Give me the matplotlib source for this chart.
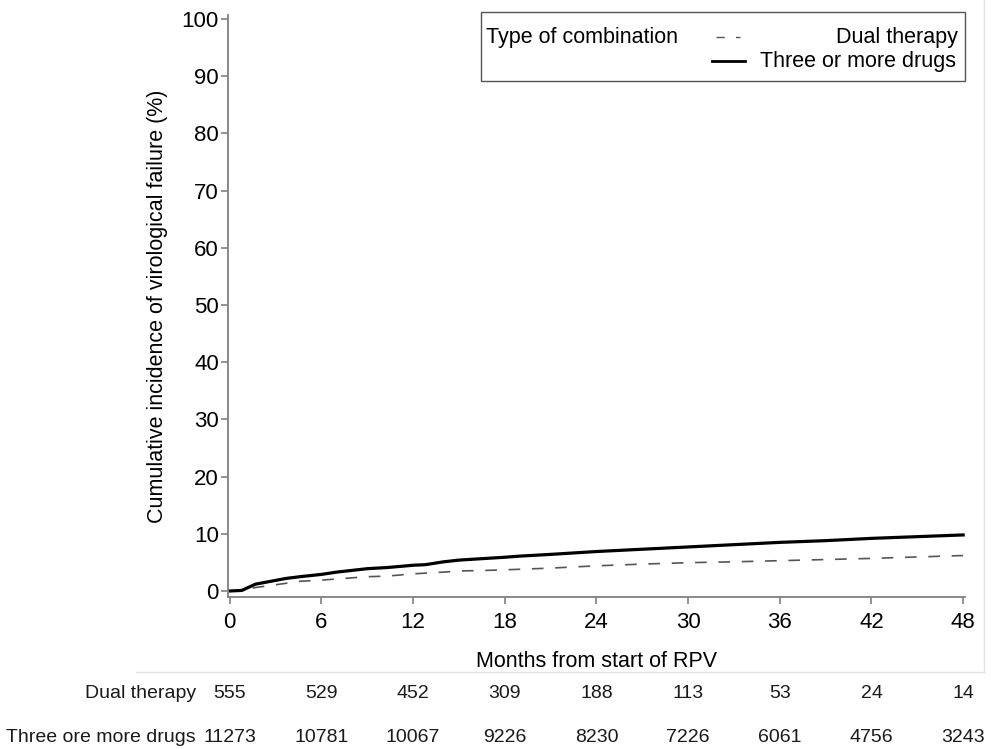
import matplotlib
matplotlib.use("Agg")
import matplotlib.pyplot as plt
from matplotlib.lines import Line2D
from matplotlib.patches import Rectangle
import matplotlib.transforms as mtransforms

# cumulative incidence curves
months_three = [0, 0.8, 1.2, 1.7, 2.5, 3.7, 4.6, 6, 7, 8, 9, 10.3, 12, 12.8, 14, 15,
                16.8, 18, 19, 21, 24, 27, 30, 33, 36, 39, 42, 45, 48]
cif_three = [0, 0.1, 0.6, 1.2, 1.6, 2.2, 2.5, 2.9, 3.3, 3.6, 3.9, 4.1, 4.5, 4.6, 5.1, 5.4,
             5.7, 5.9, 6.1, 6.4, 6.9, 7.3, 7.7, 8.1, 8.5, 8.8, 9.2, 9.5, 9.8]

months_dual = [0, 0.8, 1.3, 1.8, 2.5, 3.7, 4.6, 6, 8, 9, 10.3, 12, 14, 15, 16.8, 18,
               21, 24, 27, 30, 33, 36, 39, 42, 45, 48]
cif_dual = [0, 0.1, 0.4, 0.65, 0.9, 1.35, 1.7, 1.9, 2.3, 2.5, 2.6, 3.0, 3.3, 3.5, 3.6, 3.7,
            4.0, 4.4, 4.7, 4.95, 5.1, 5.3, 5.5, 5.7, 5.95, 6.2]

# numbers at risk
risk_months = [0, 6, 12, 18, 24, 30, 36, 42, 48]
risk_dual = [555, 529, 452, 309, 188, 113, 53, 24, 14]
risk_three = [11273, 10781, 10067, 9226, 8230, 7226, 6061, 4756, 3243]
risk_labels = ["Dual therapy", "Three ore more drugs"]

W, H = 991, 749
fig = plt.figure(figsize=(W / 100, H / 100), dpi=100)
ax = fig.add_axes([228 / W, 1 - 597 / H, (965 - 228) / W, (597 - 15) / H])

ax.plot(months_dual, cif_dual, color="#555555", lw=1.2, dashes=(7, 7))
ax.plot(months_three, cif_three, color="black", lw=2.3)

ax.set_xlim(-0.11, 48.12)
ax.set_ylim(-1.05, 100.7)
ax.set_xticks(risk_months)
ax.set_yticks(range(0, 101, 10))

sans = ["Liberation Sans", "DejaVu Sans"]
for s in ["top", "right"]:
    ax.spines[s].set_visible(False)
for s in ["left", "bottom"]:
    ax.spines[s].set_color("#808080")
    ax.spines[s].set_linewidth(1.3)
ax.tick_params(direction="out", length=5, width=1.2, color="#808080", labelsize=16)
ax.tick_params(axis="x", pad=6)
ax.tick_params(axis="y", pad=1.5)
for lab in ax.get_xticklabels() + ax.get_yticklabels():
    lab.set_family(sans)

ax.set_xlabel("Months from start of RPV", fontsize=15.5, family=sans, labelpad=13)
ax.set_ylabel("Cumulative incidence of virological failure (%)", fontsize=15.5,
              family=sans, labelpad=10)

# legend drawn as a box like the original
def fx(px):
    return px / W

def fy(py):
    return 1 - py / H

fig.patches.append(Rectangle((fx(481), fy(81)), fx(965) - fx(481), fy(12) - fy(81),
                             transform=fig.transFigure, fill=False,
                             edgecolor="#555555", lw=1.0))
lfont = dict(fontsize=15.5, family=sans, va="center")
fig.text(fx(486), fy(37), "Type of combination", ha="left", **lfont)
fig.text(fx(958), fy(37), "Dual therapy", ha="right", **lfont)
fig.text(fx(956), fy(61), "Three or more drugs", ha="right", **lfont)
fig.lines.append(Line2D([fx(716), fx(740)], [fy(37), fy(37)], transform=fig.transFigure,
                        color="#555555", lw=1.0, dashes=(6, 8)))
fig.lines.append(Line2D([fx(712), fx(745)], [fy(61), fy(61)], transform=fig.transFigure,
                        color="black", lw=2.0))

# faint outer frame
fig.lines.append(Line2D([fx(136), fx(984)], [fy(672), fy(672)], transform=fig.transFigure,
                        color="#e2e2e2", lw=1.0))
fig.lines.append(Line2D([fx(984), fx(984)], [fy(0), fy(672)], transform=fig.transFigure,
                        color="#e2e2e2", lw=1.0))

# numbers at risk table
tr = mtransforms.blended_transform_factory(ax.transData, fig.transFigure)
tfont = dict(fontsize=14,
             family=["Liberation Sans Narrow", "DejaVu Sans Condensed", "Liberation Sans"],
             va="center", color="#1a1a1a")
for row, (lab, vals) in enumerate(zip(risk_labels, [risk_dual, risk_three])):
    yy = fy(693 + row * 44)
    fig.text(fx(196), yy, lab, ha="right", **tfont)
    for m, v in zip(risk_months, vals):
        ax.text(m, yy, str(v), transform=tr, ha="center", clip_on=False, **tfont)

fig.savefig("out.png", dpi=100)
